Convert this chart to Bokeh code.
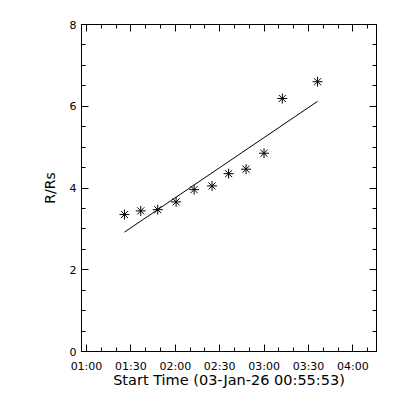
from bokeh.plotting import figure
from bokeh.models import LinearAxis, FixedTicker, Range1d
from bokeh.embed import file_html
from bokeh.resources import INLINE

# Observation times (HH:MM:SS) and heights (R/Rs)
obs_times = ["01:25:39", "01:36:39", "01:48:08", "02:00:33", "02:12:42",
             "02:24:51", "02:36:03", "02:47:48", "02:59:57", "03:12:18",
             "03:36:08"]
r_values = [3.35, 3.44, 3.47, 3.66, 3.96, 4.05, 4.35, 4.46, 4.85, 6.19, 6.60]

# Linear fit endpoints
fit_times = ["01:25:39", "03:36:08"]
fit_r = [2.92, 6.12]

x_tick_labels = ["01:00", "01:30", "02:00", "02:30", "03:00", "03:30", "04:00"]
y_ticks = [0, 2, 4, 6, 8]
x_title = "Start Time (03-Jan-26 00:55:53)"
y_title = "R/Rs"


def to_min(s):
    h, m, sec = (int(v) for v in s.split(":"))
    return h * 60 + m + sec / 60.0


x_obs = [to_min(t) for t in obs_times]
x_fit = [to_min(t) for t in fit_times]
x_major = [to_min(t + ":00") for t in x_tick_labels]
x_minor = [x_major[0] + 10 * i for i in range(-1, 20)]
y_minor = [0.5 * i for i in range(0, 17)]

FONT = "DejaVu Sans"
X0, X1, Y0, Y1 = 56.63, 255.95, 0, 8

p = figure(frame_width=295, frame_height=327,
           x_range=Range1d(X0, X1), y_range=Range1d(Y0, Y1),
           output_backend="svg", toolbar_location=None,
           min_border_left=81, min_border_right=16, min_border_top=24,
           min_border_bottom=41, x_axis_type=None, y_axis_type=None)
p.grid.visible = False
p.outline_line_color = "black"
p.outline_line_width = 1
p.background_fill_color = "white"
p.border_fill_color = "white"


def style(ax):
    ax.axis_line_color = "black"
    ax.major_tick_line_color = "black"
    ax.minor_tick_line_color = "black"
    ax.major_tick_in = 7
    ax.major_tick_out = 0
    ax.minor_tick_in = 4
    ax.minor_tick_out = 0
    ax.major_label_text_font = FONT
    ax.major_label_text_color = "black"
    ax.axis_label_text_font = FONT
    ax.axis_label_text_font_style = "normal"
    ax.axis_label_text_color = "black"


overrides = {float(v): lab for v, lab in zip(x_major, x_tick_labels)}
overrides.update({int(v): lab for v, lab in zip(x_major, x_tick_labels)})

xb = LinearAxis(ticker=FixedTicker(ticks=x_major, minor_ticks=x_minor),
                axis_label=x_title, major_label_overrides=overrides)
style(xb)
xb.major_label_text_font_size = "11px"
xb.major_label_standoff = 8
xb.axis_label_text_font_size = "14.5px"
xb.axis_label_standoff = -4
p.add_layout(xb, "below")

yl = LinearAxis(ticker=FixedTicker(ticks=y_ticks, minor_ticks=y_minor),
                axis_label=y_title)
style(yl)
yl.major_label_text_font_size = "11px"
yl.major_label_standoff = 5
yl.axis_label_text_font_size = "14px"
yl.axis_label_standoff = 9
p.add_layout(yl, "left")

# Unlabelled tick marks on the top and right edges of the box
for side, loc, majors, minors in (("above", Y1, x_major, x_minor),
                                  ("right", X1, y_ticks, y_minor)):
    for ticks, length in ((majors, 7), (minors, 4)):
        ax = LinearAxis(ticker=FixedTicker(ticks=[], minor_ticks=ticks),
                        fixed_location=loc)
        style(ax)
        ax.minor_tick_in = length
        p.add_layout(ax, side)

p.line(x_fit, fit_r, line_color="black", line_width=1)
p.scatter(x_obs, r_values, marker="asterisk", size=10,
          line_color="black", line_width=1)

open("out.html", "w").write(file_html(p, INLINE))
